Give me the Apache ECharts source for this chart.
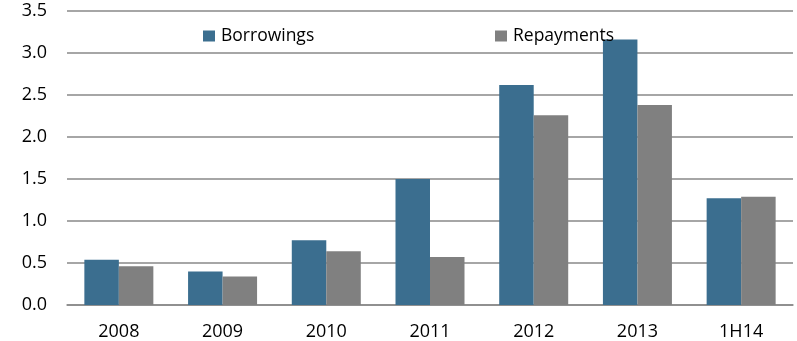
<!DOCTYPE html>
<html>
<head>
<meta charset="utf-8">
<script src="https://cdn.jsdelivr.net/npm/echarts@6/dist/echarts.min.js"></script>
<style>
  html, body { margin: 0; padding: 0; background: #fff; }
  #chart { width: 797px; height: 341px; }
</style>
</head>
<body>
<div id="chart"></div>
<script>
// Annual borrowings vs repayments
const categories = ['2008', '2009', '2010', '2011', '2012', '2013', '1H14'];
const borrowings = [0.54, 0.40, 0.77, 1.50, 2.62, 3.16, 1.27];
const repayments = [0.46, 0.34, 0.64, 0.57, 2.26, 2.38, 1.29];
const yTicks = [0, 0.5, 1.0, 1.5, 2.0, 2.5, 3.0, 3.5];

const FONT = 'Open Sans';
const chart = echarts.init(document.getElementById('chart'), null, { renderer: 'canvas' });

const legendBase = {
  padding: 0,
  icon: 'rect', itemWidth: 12, itemHeight: 11, itemGap: 5,
  textStyle: { fontFamily: FONT, fontSize: 17.5, color: '#000', padding: [0, 0, 0, 1] }
};

chart.setOption({
  animation: false,
  textStyle: { fontFamily: FONT },
  grid: { left: 67, right: 4, top: 11, bottom: 33, containLabel: false },
  legend: [
    Object.assign({ data: ['Borrowings'], left: 203, top: 27 }, legendBase),
    Object.assign({ data: ['Repayments'], left: 495, top: 27 }, legendBase)
  ],
  xAxis: {
    type: 'category',
    data: categories,
    axisLine: { show: true, lineStyle: { color: '#898989', width: 1.5 } },
    axisTick: { show: false },
    axisLabel: { color: '#000', fontSize: 18, fontFamily: FONT, margin: 18 }
  },
  yAxis: {
    type: 'value',
    min: 0, max: 3.5, interval: 0.5,
    axisLine: { show: false },
    axisTick: { show: false },
    splitLine: { lineStyle: { color: '#898989', width: 1.5 } },
    axisLabel: {
      color: '#000', fontSize: 18, fontFamily: FONT, margin: 20,
      formatter: v => yTicks.includes(v) ? v.toFixed(1) : ''
    }
  },
  series: [
    {
      name: 'Borrowings', type: 'bar', data: borrowings,
      barWidth: 34.5, barGap: '0%',
      itemStyle: { color: '#3b6e8f' }
    },
    {
      name: 'Repayments', type: 'bar', data: repayments,
      barWidth: 34.5, barGap: '0%',
      itemStyle: { color: '#808080' }
    }
  ]
});
</script>
</body>
</html>
